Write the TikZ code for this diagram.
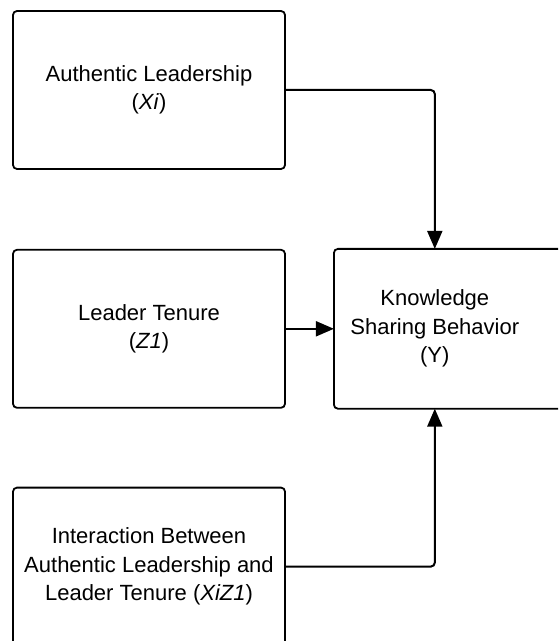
\documentclass[tikz,border=0pt]{standalone}
\usepackage{fontspec}
\setmainfont{Liberation Sans}
\usetikzlibrary{arrows.meta,positioning}

\begin{document}
\begin{tikzpicture}[
    node distance=39.5pt,
    box/.style={rectangle, rounded corners=2pt, draw=black, line width=0.9pt, minimum width=136pt, minimum height=79pt, align=center, font=\fontsize{11}{14.25}\selectfont},
    arrow/.style={-{Triangle[length=9pt,width=7.5pt]}, line width=1pt, rounded corners=2pt}
]
    \useasboundingbox (0,0) rectangle (279pt,-320.5pt);
    \clip (0,0) rectangle (279pt,-320.5pt);

    % Predictors
    \node[box] (auth) at (74.5pt,-45pt) {Authentic Leadership\\(\textit{Xi})};
    \node[box, below=of auth] (tenure) {Leader Tenure\\(\textit{Z1})};
    \node[box, below=39pt of tenure] (inter) {Interaction Between\\Authentic Leadership and\\Leader Tenure (\textit{XiZ1})};

    % Outcome (box runs past the right edge)
    \node[box, draw=none, minimum width=100pt, right=24pt of tenure] (ksb) {Knowledge\\Sharing Behavior\\(Y)};
    \draw[line width=0.9pt, rounded corners=2pt] (ksb.south west) rectangle ([xshift=40pt]ksb.north east);

    % Arrows
    \draw[arrow] (auth.east) -| (ksb.north);
    \draw[arrow] (tenure) -- (ksb);
    \draw[arrow] (inter.east) -| (ksb.south);
\end{tikzpicture}
\end{document}
